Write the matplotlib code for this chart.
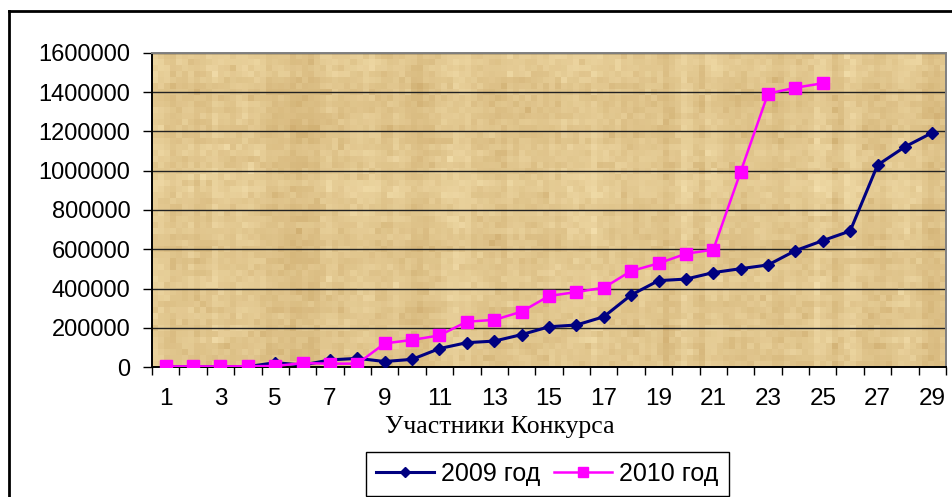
import numpy as np
import matplotlib
matplotlib.use("Agg")
import matplotlib.pyplot as plt
from matplotlib.lines import Line2D

# Contest participants and their totals per year
participants = list(range(1, 30))
values_2009 = [1000, 1000, 1000, 2000, 22000, 10000, 36000, 44000, 28000, 39000,
               94000, 124000, 132000, 165000, 205000, 214000, 256000, 367000, 440000,
               448000, 481000, 501000, 520000, 593000, 644000, 693000, 1029000,
               1122000, 1194000]
participants_2010 = list(range(1, 26))
values_2010 = [3000, 3000, 3000, 4000, 5000, 20000, 17000, 17000, 120000, 138000,
               161000, 231000, 240000, 282000, 362000, 382000, 404000, 489000,
               528000, 577000, 598000, 995000, 1393000, 1423000, 1446000]
y_ticks = [0, 200000, 400000, 600000, 800000, 1000000, 1200000, 1400000, 1600000]
x_tick_positions = list(range(1, 30, 2))
x_tick_labels = [str(i) for i in x_tick_positions]
series_names = ["2009 год", "2010 год"]
x_title = "Участники Конкурса"

W, H = 953, 497
sans = ["Liberation Sans", "DejaVu Sans"]
serif = ["Liberation Serif", "DejaVu Serif"]
plt.rcParams["font.family"] = sans


def papyrus(rows, cols, seed=11):
    """Blocky parchment-like texture with vertical and horizontal fibres."""
    rng = np.random.default_rng(seed)
    col = np.convolve(rng.normal(size=cols + 2), np.ones(3) / 3, mode="valid")[:cols]
    row = np.convolve(rng.normal(size=rows + 2), np.ones(3) / 3, mode="valid")[:rows]
    cell = rng.normal(size=(rows, cols))
    streak = np.convolve(rng.normal(size=rows * cols), np.ones(5) / 5,
                         mode="same").reshape(rows, cols)
    v = 0.7 * col[None, :] + 0.35 * row[:, None] + 0.3 * cell + 0.4 * streak
    v = (v - v.min()) / (v.max() - v.min())
    light = np.array([0.95, 0.87, 0.67])
    dark = np.array([0.82, 0.69, 0.45])
    return dark + (light - dark) * v[..., None]


fig = plt.figure(figsize=(W / 100, H / 100), dpi=100)
fig.patch.set_facecolor("white")

left, right, top, bottom = 152, 946, 53, 367
ax = fig.add_axes([left / W, 1 - bottom / H, (right - left) / W, (bottom - top) / H])

ax.set_xlim(0.5, 29.5)
ax.set_ylim(0, 1600000)

ax.imshow(papyrus(52, 132), extent=(0.5, 29.5, 0, 1600000), aspect="auto",
          interpolation="nearest", zorder=0)

ax.yaxis.grid(True, color="#222222", lw=1.0, zorder=1)

ax.plot(participants, values_2009, color="#000080", lw=2.2, marker="D", ms=6.3,
        markeredgecolor="#000080", zorder=3, label=series_names[0])
ax.plot(participants_2010, values_2010, color="#FF00FF", lw=1.8, marker="s", ms=8.3,
        markeredgecolor="#FF00FF", zorder=4, label=series_names[1])

# Axes frame
for s in ("left", "bottom"):
    ax.spines[s].set_color("black")
    ax.spines[s].set_linewidth(1.4)
for s in ("top", "right"):
    ax.spines[s].set_color("#808080")
    ax.spines[s].set_linewidth(1.4)

ax.set_yticks(y_ticks)
ax.set_yticklabels([str(v) for v in y_ticks])
ax.tick_params(axis="y", direction="out", length=6.5, width=1, pad=9, labelsize=17)

ax.set_xticks(x_tick_positions)
ax.set_xticklabels(x_tick_labels)
ax.set_xticks(np.arange(0.5, 30, 1), minor=True)
ax.tick_params(axis="x", which="major", length=0, pad=15, labelsize=17.5)
ax.tick_params(axis="x", which="minor", direction="out", length=6, width=1)

fig.text(500 / W, 1 - 427 / H, x_title, family=serif, fontsize=18.5,
         ha="center", va="center")

handles = [
    Line2D([], [], color="#000080", lw=2.2, marker="D", ms=5.5),
    Line2D([], [], color="#FF00FF", lw=1.8, marker="s", ms=7),
]
leg = fig.legend(handles, series_names, loc="center",
                 bbox_to_anchor=(547.5 / W, 1 - 473.5 / H), ncol=2, fontsize=18,
                 frameon=True, fancybox=False, edgecolor="black", framealpha=1,
                 handlelength=2.3, handletextpad=0.3, columnspacing=0.55,
                 borderpad=0.4)
leg.get_frame().set_linewidth(1.0)

# Outer chart border
fig.add_artist(Line2D([9.5 / W, 9.5 / W], [0, 1 - 11 / H], transform=fig.transFigure,
                      color="black", lw=2))
fig.add_artist(Line2D([9.5 / W, 1], [1 - 11 / H, 1 - 11 / H], transform=fig.transFigure,
                      color="black", lw=2))

fig.savefig("out.png", dpi=100)
